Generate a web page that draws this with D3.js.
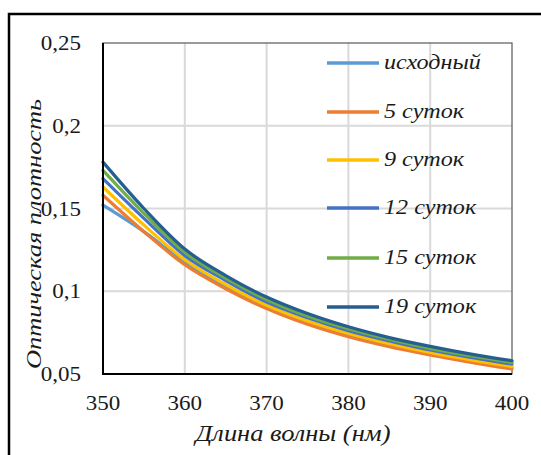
<!DOCTYPE html>
<html>
<head>
<meta charset="utf-8">
<script src="https://cdn.jsdelivr.net/npm/d3@7"></script>
<style>
  body { margin: 0; background: #fff; }
  text { font-family: "Liberation Serif", "Times New Roman", serif; fill: #1a1a1a; }
</style>
</head>
<body>
<div id="chart"></div>
<script>
// wavelength, nm
var wavelengths = [350, 355, 360, 365, 370, 375, 380, 385, 390, 395, 400];

// optical density per series
var ishodny  = [0.152, 0.136, 0.1175, 0.1025, 0.0905, 0.081, 0.0735, 0.0675, 0.0625, 0.058, 0.054];
var sutok5   = [0.158, 0.136, 0.116, 0.1015, 0.0895, 0.080, 0.0725, 0.0665, 0.0615, 0.057, 0.053];
var sutok9   = [0.163, 0.140, 0.119, 0.104, 0.0915, 0.082, 0.0745, 0.0683, 0.063, 0.0585, 0.0545];
var sutok12  = [0.168, 0.144, 0.1215, 0.1065, 0.0935, 0.084, 0.0762, 0.070, 0.0645, 0.060, 0.056];
var sutok15  = [0.173, 0.147, 0.1235, 0.108, 0.095, 0.085, 0.0773, 0.071, 0.0655, 0.061, 0.057];
var sutok19  = [0.178, 0.150, 0.1255, 0.1095, 0.0965, 0.0865, 0.0785, 0.072, 0.0667, 0.062, 0.058];

var seriesNames = ["исходный", "5 суток", "9 суток", "12 суток", "15 суток", "19 суток"];
var seriesValues = [ishodny, sutok5, sutok9, sutok12, sutok15, sutok19];
var palette = ["#5b9bd5", "#ed7d31", "#ffc000", "#4472c4", "#70ad47", "#255e91"];

var xTicks = [350, 360, 370, 380, 390, 400];
var yTicks = [0.05, 0.1, 0.15, 0.2, 0.25];

var width = 541, height = 455;
var margin = {top: 43, right: 29, bottom: 81, left: 103};
var stretch = 1.15; // text in the picture is a bit wider than the font

var svg = d3.select("#chart").append("svg")
    .attr("width", width)
    .attr("height", height);

// outer frame
svg.append("rect")
    .attr("x", 9).attr("y", 14)
    .attr("width", width + 10).attr("height", height + 10)
    .attr("fill", "none")
    .attr("stroke", "#000")
    .attr("stroke-width", 2.5);

var xScale = d3.scaleLinear()
    .domain([350, 400])
    .range([margin.left, width - margin.right]);

var yScale = d3.scaleLinear()
    .domain([0.05, 0.25])
    .range([height - margin.bottom, margin.top]);

var fmt = function(v){ return d3.format("~g")(v).replace(".", ","); };

// gridlines
svg.append("g")
    .selectAll("line.vg")
    .data(xTicks.slice(1, -1))
  .enter().append("line")
    .attr("x1", function(d){ return xScale(d); })
    .attr("x2", function(d){ return xScale(d); })
    .attr("y1", yScale(0.25))
    .attr("y2", yScale(0.05))
    .attr("stroke", "#d9d9d9")
    .attr("stroke-width", 2);

svg.append("g")
    .selectAll("line.hg")
    .data(yTicks.slice(1, -1))
  .enter().append("line")
    .attr("x1", xScale(350))
    .attr("x2", xScale(400))
    .attr("y1", function(d){ return yScale(d); })
    .attr("y2", function(d){ return yScale(d); })
    .attr("stroke", "#d9d9d9")
    .attr("stroke-width", 2);

// plot border (top/right gray)
svg.append("rect")
    .attr("x", xScale(350)).attr("y", yScale(0.25))
    .attr("width", xScale(400) - xScale(350))
    .attr("height", yScale(0.05) - yScale(0.25))
    .attr("fill", "none")
    .attr("stroke", "#595959")
    .attr("stroke-width", 1.2);

// legend
var legendY = [63, 112, 160, 208, 258, 307];
var legend = svg.append("g");
seriesNames.forEach(function(name, i){
    legend.append("line")
        .attr("x1", 327).attr("x2", 379)
        .attr("y1", legendY[i]).attr("y2", legendY[i])
        .attr("stroke", palette[i])
        .attr("stroke-width", 3.5);
    legend.append("text")
        .attr("transform", "translate(384," + (legendY[i] + 6) + ") scale(" + stretch + ",1)")
        .style("font-size", "21px")
        .style("font-style", "italic")
        .text(name);
});

// lines
var line = d3.line()
    .x(function(d, i){ return xScale(wavelengths[i]); })
    .y(function(d){ return yScale(d); })
    .curve(d3.curveMonotoneX);

svg.append("g")
    .selectAll("path")
    .data(seriesValues)
  .enter().append("path")
    .attr("d", line)
    .attr("fill", "none")
    .attr("stroke", function(d, i){ return palette[i]; })
    .attr("stroke-width", 3.2)
    .attr("stroke-linecap", "round");

// axes lines (black left and bottom)
svg.append("line")
    .attr("x1", xScale(350)).attr("x2", xScale(350))
    .attr("y1", yScale(0.25)).attr("y2", yScale(0.05))
    .attr("stroke", "#000").attr("stroke-width", 2);
svg.append("line")
    .attr("x1", xScale(350) - 1).attr("x2", xScale(400))
    .attr("y1", yScale(0.05)).attr("y2", yScale(0.05))
    .attr("stroke", "#000").attr("stroke-width", 2);

// tick labels
svg.append("g").selectAll("text")
    .data(yTicks)
  .enter().append("text")
    .attr("transform", function(d){ return "translate(81," + (yScale(d) + 7) + ") scale(" + stretch + ",1)"; })
    .attr("text-anchor", "end")
    .style("font-size", "20px")
    .text(fmt);

svg.append("g").selectAll("text")
    .data(xTicks)
  .enter().append("text")
    .attr("transform", function(d){ return "translate(" + xScale(d) + ",410) scale(" + stretch + ",1)"; })
    .attr("text-anchor", "middle")
    .style("font-size", "20px")
    .text(function(d){ return d; });

// axis titles
svg.append("text")
    .attr("transform", "translate(293,441) scale(" + stretch + ",1)")
    .attr("text-anchor", "middle")
    .style("font-size", "23px")
    .style("font-style", "italic")
    .text("Длина волны (нм)");

svg.append("text")
    .attr("transform", "translate(41,234) rotate(-90) scale(1.2,1)")
    .attr("text-anchor", "middle")
    .style("font-size", "22px")
    .style("font-style", "italic")
    .text("Оптическая плотность");
</script>
</body>
</html>
